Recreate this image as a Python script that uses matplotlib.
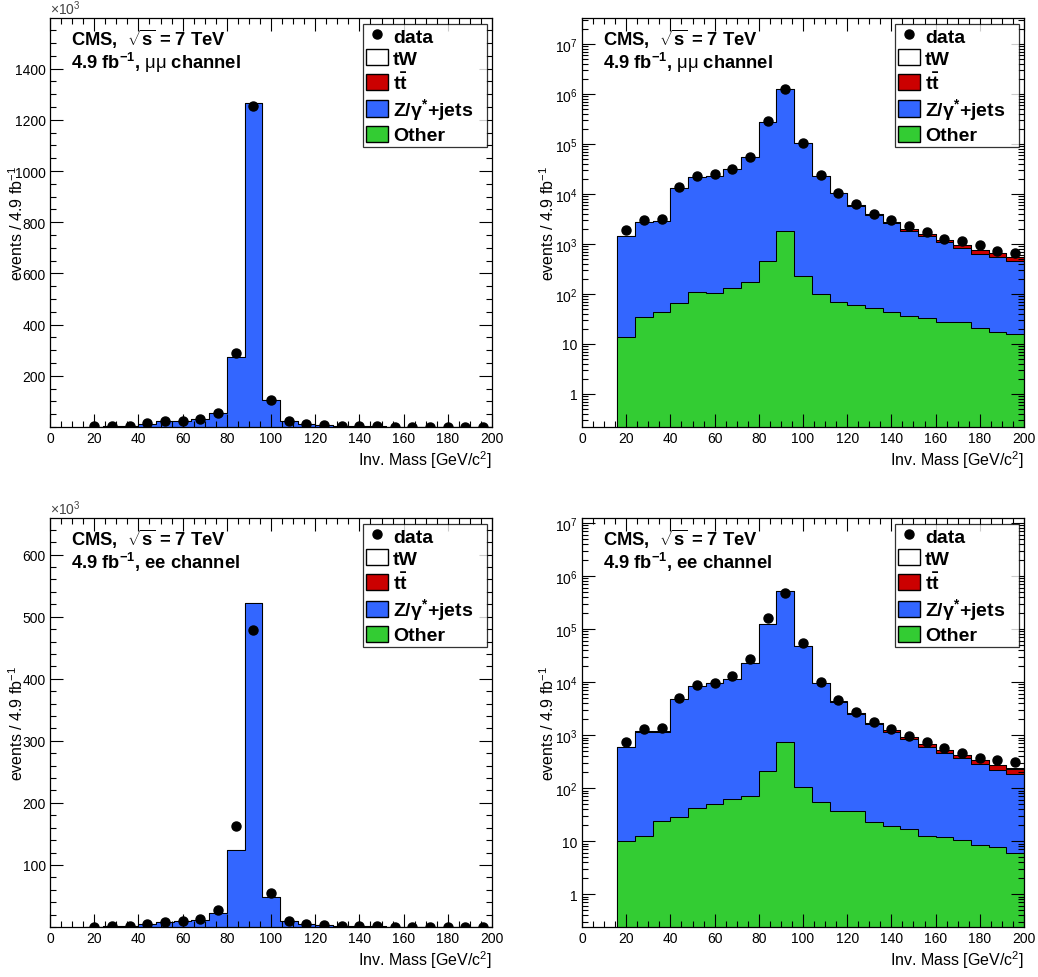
import numpy as np
import matplotlib
matplotlib.use("Agg")
import matplotlib.pyplot as plt
from matplotlib.patches import Patch
from matplotlib.lines import Line2D
from matplotlib.ticker import MultipleLocator, FixedLocator, LogLocator, NullFormatter, FuncFormatter

plt.rcParams['font.family'] = ['Liberation Sans', 'DejaVu Sans']
plt.rcParams['mathtext.fontset'] = 'custom'
plt.rcParams['mathtext.rm'] = 'Liberation Sans'
plt.rcParams['mathtext.bf'] = 'Liberation Sans:bold'
plt.rcParams['mathtext.it'] = 'Liberation Sans:italic'
plt.rcParams['mathtext.default'] = 'regular'

# 8 GeV bins from 16 to 200 GeV/c^2
edges = np.arange(16, 201, 8)
centers = 0.5 * (edges[:-1] + edges[1:])

# mu mu channel (events per bin)
other_mm = [13.6, 34, 43, 65, 108, 105, 130, 176, 464, 1790, 226, 102, 70, 60, 53, 43, 37, 33, 28, 27, 20.6, 17.6, 15.8]
dy_mm = [1420, 2720, 2820, 13250, 21690, 23070, 31340, 54680, 274400, 1263000, 104600, 23040, 10330, 5754, 3766,
         2583, 1800, 1386, 1045, 792, 609, 527, 440]
tt_mm = [30, 45, 60, 80, 95, 110, 120, 130, 135, 140, 140, 140, 182, 176, 169, 162, 155, 149, 135, 128, 119, 108, 97]
tw_mm = [3, 5, 6, 8, 10, 11, 12, 13, 14, 14, 14, 14, 13, 13, 12, 12, 11, 11, 10, 9, 9, 8, 7]
data_mm = [1900, 3070, 3160, 14000, 22900, 24700, 31100, 56000, 290000, 1256000, 104000, 23600, 10600, 6300, 4000,
           3070, 2330, 1740, 1280, 1130, 940, 713, 660]

# ee channel
other_ee = [10.2, 12.7, 24.4, 28, 41.6, 50, 62.5, 72, 214, 733, 107, 54, 37.6, 36.5, 22.6, 19, 17, 12.7, 12.1, 10.5, 8.5, 7.9, 6.0]
dy_ee = [580, 1143, 1113, 4680, 8505, 9420, 11370, 22860, 123200, 521200, 47820, 9400, 4170, 2460, 1591,
         1132, 815, 585, 443, 352, 275, 210, 180]
tt_ee = [15, 22, 30, 40, 48, 55, 60, 65, 68, 70, 70, 70, 88, 85, 81, 78, 74, 70, 65, 61, 57, 52, 47]
tw_ee = [2, 2, 3, 4, 5, 5, 6, 6, 7, 7, 7, 7, 7, 6, 6, 6, 6, 5, 5, 5, 4, 4, 4]
data_ee = [733, 1330, 1370, 4900, 8720, 9800, 12900, 27000, 163000, 479000, 54600, 10200, 4620, 2740, 1775,
           1330, 966, 745, 581, 468, 377, 340, 312]

GREEN = '#33cc33'
BLUE = '#3366ff'
RED = '#cc0000'


def log_fmt(v, pos):
    if v < 0.5:
        return ''
    n = int(round(np.log10(v)))
    if n == 0:
        return '1'
    if n == 1:
        return '10'
    return r'10$^{%d}$' % n


def draw_panel(ax, other, dy, tt, tw, data, channel, log, ymax, major=None, minor=None):
    other = np.array(other, float)
    dy = np.array(dy, float)
    tt = np.array(tt, float)
    tw = np.array(tw, float)
    data = np.array(data, float)
    scale = 1.0 if log else 1000.0
    base = 0.01 if log else 0.0
    c1 = other / scale
    c2 = c1 + dy / scale
    c3 = c2 + tt / scale
    c4 = c3 + tw / scale
    for c, col in [(c4, 'white'), (c3, RED), (c2, BLUE), (c1, GREEN)]:
        ax.stairs(c, edges, baseline=base, fill=True, facecolor=col, edgecolor='black', lw=0.75)
    ax.plot(centers, data / scale, 'o', color='black', ms=6.5, zorder=5)

    ax.set_xlim(0, 200)
    if log:
        ax.set_yscale('log')
        ax.set_ylim(ymax[0], ymax[1])
        ax.yaxis.set_major_locator(LogLocator(base=10, numticks=20))
        ax.yaxis.set_minor_locator(LogLocator(base=10, subs=np.arange(2, 10), numticks=20))
        ax.yaxis.set_major_formatter(FuncFormatter(log_fmt))
        ax.yaxis.set_minor_formatter(NullFormatter())
        ax.yaxis.set_label_coords(-0.057, 0.5)
    else:
        ax.set_ylim(0, ymax)
        ax.yaxis.set_major_locator(FixedLocator(major))
        ax.yaxis.set_minor_locator(MultipleLocator(minor))
        ax.text(0.0, 1.003, r'$\times$10$^{3}$', transform=ax.transAxes, fontsize=10, color='#444444',
                ha='left', va='bottom')
        ax.yaxis.set_label_coords(-0.055, 0.5)
    ax.xaxis.set_major_locator(MultipleLocator(20))
    ax.xaxis.set_minor_locator(MultipleLocator(5))
    ax.tick_params(which='both', direction='in', top=True, right=True, width=0.8, labelsize=10, pad=3)
    ax.tick_params(which='major', length=9.5)
    ax.tick_params(which='minor', length=4.5)
    for s in ax.spines.values():
        s.set_linewidth(0.9)

    ax.set_xlabel(r'Inv. Mass [GeV/c$^{2}$]', fontsize=11.5, ha='right')
    ax.xaxis.set_label_coords(1.0, -0.052)
    ax.set_ylabel(r'events / 4.9 fb$^{-1}$', fontsize=11.5)

    ax.text(0.047, 0.934, r'CMS,  $\mathbf{\sqrt{s}}$ = 7 TeV', transform=ax.transAxes,
            fontsize=13.2, fontweight='bold', va='baseline')
    ax.text(0.047, 0.878, r'4.9 fb$^{\mathbf{-1}}$, ' + channel + ' channel', transform=ax.transAxes,
            fontsize=13.2, fontweight='bold', va='baseline')

    handles = [Line2D([], [], marker='o', color='black', ls='none', ms=6.5),
               Patch(facecolor='white', edgecolor='black'),
               Patch(facecolor=RED, edgecolor='black'),
               Patch(facecolor=BLUE, edgecolor='black'),
               Patch(facecolor=GREEN, edgecolor='black')]
    labels = ['data', 'tW', r'$\mathbf{t\bar{t}}$', r'Z/$\gamma^{\mathbf{*}}$+jets', 'Other']
    leg = ax.legend(handles, labels, loc='upper left', bbox_to_anchor=(0.708, 0.0, 0.281, 0.985),
                    mode='expand', prop={'weight': 'bold', 'size': 14}, frameon=True, fancybox=False,
                    handlelength=1.12, handleheight=0.9, handletextpad=0.27, labelspacing=0.18,
                    borderpad=0.15, borderaxespad=0.0)
    leg.get_frame().set_edgecolor('black')
    leg.get_frame().set_linewidth(0.9)


fig = plt.figure(figsize=(10.38, 9.78), dpi=100)
ax1 = fig.add_axes([0.0482, 0.5624, 0.4258, 0.4182])
ax2 = fig.add_axes([0.5607, 0.5624, 0.4258, 0.4182])
ax3 = fig.add_axes([0.0482, 0.0511, 0.4258, 0.4182])
ax4 = fig.add_axes([0.5607, 0.0511, 0.4258, 0.4182])

mumu = r'$\mathrm{\mu\mu}$'
draw_panel(ax1, other_mm, dy_mm, tt_mm, tw_mm, data_mm, mumu, False, 1598,
           major=[200, 400, 600, 800, 1000, 1200, 1400], minor=50)
draw_panel(ax2, other_mm, dy_mm, tt_mm, tw_mm, data_mm, mumu, True, (10 ** -0.66, 10 ** 7.52))
draw_panel(ax3, other_ee, dy_ee, tt_ee, tw_ee, data_ee, 'ee', False, 659,
           major=[100, 200, 300, 400, 500, 600], minor=20)
draw_panel(ax4, other_ee, dy_ee, tt_ee, tw_ee, data_ee, 'ee', True, (10 ** -0.62, 10 ** 7.094))

fig.savefig('out.png', dpi=100)
